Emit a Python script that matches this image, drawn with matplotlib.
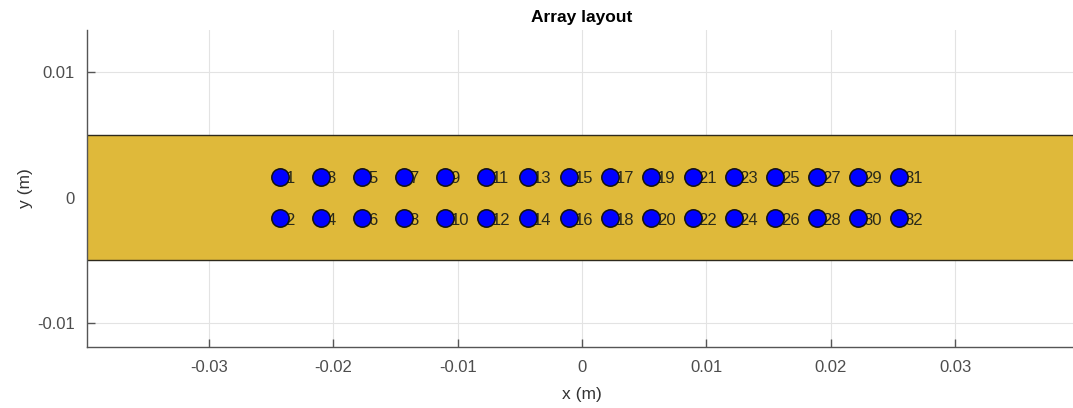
import matplotlib
matplotlib.use("Agg")
import matplotlib.pyplot as plt
from matplotlib.patches import Rectangle

# element positions (m)
col_x = [-0.0243, -0.02098, -0.01766, -0.01434, -0.01102, -0.0077, -0.00438, -0.00106,
         0.00226, 0.00558, 0.0089, 0.01222, 0.01554, 0.01886, 0.02218, 0.0255]
row_y = [0.00165, -0.00165]

board_y = [-0.005, 0.005]

x_ticks = [-0.03, -0.02, -0.01, 0, 0.01, 0.02, 0.03]
x_tick_labels = ["-0.03", "-0.02", "-0.01", "0", "0.01", "0.02", "0.03"]
y_ticks = [-0.01, 0, 0.01]
y_tick_labels = ["-0.01", "0", "0.01"]

plt.rcParams['font.family'] = ['Liberation Sans', 'DejaVu Sans']

fig = plt.figure(figsize=(10.73, 4.08), dpi=100)
ax = fig.add_axes([87 / 1073, 1 - 347 / 408, 990 / 1073, 317 / 408])

xlim = (-0.0398, 0.0398)
ax.set_xlim(xlim)
ax.set_ylim(-0.0119, 0.01335)

ax.grid(True, color='#e3e3e3', linewidth=0.8, zorder=0)
ax.set_axisbelow(True)

ax.add_patch(Rectangle((xlim[0] - 0.01, board_y[0]), (xlim[1] - xlim[0]) + 0.02,
                       board_y[1] - board_y[0], facecolor='#dfb93a',
                       edgecolor='#2e2a1c', linewidth=1.0, zorder=1))

xs, ys, labels = [], [], []
n = 1
for x in col_x:
    for y in row_y:
        xs.append(x)
        ys.append(y)
        labels.append(str(n))
        n += 1

for x, y, lab in zip(xs, ys, labels):
    ax.annotate(lab, (x, y), xytext=(4, -1.5), textcoords='offset points',
                ha='left', va='center', fontsize=12, color='#2a2a1a', zorder=2)

ax.plot(xs, ys, 'o', markersize=12.5, markerfacecolor='#0000ff',
        markeredgecolor='#111111', markeredgewidth=1.1, linestyle='none', zorder=3)

ax.set_xticks(x_ticks)
ax.set_xticklabels(x_tick_labels)
ax.set_yticks(y_ticks)
ax.set_yticklabels(y_tick_labels)
ax.tick_params(direction='in', length=6, width=1, colors='#555555',
               labelsize=12, labelcolor='#4d4d4d', pad=9)

for s in ['top', 'right']:
    ax.spines[s].set_visible(False)
for s in ['left', 'bottom']:
    ax.spines[s].set_color('#555555')
    ax.spines[s].set_linewidth(1.0)

ax.set_xlabel("x (m)", fontsize=12.5, color='#333333', labelpad=9)
ax.set_ylabel("y (m)", fontsize=12.5, color='#333333', labelpad=3)
ax.set_title("Array layout", fontsize=12.5, fontweight='bold', pad=6)

fig.savefig("out.png", dpi=100)
